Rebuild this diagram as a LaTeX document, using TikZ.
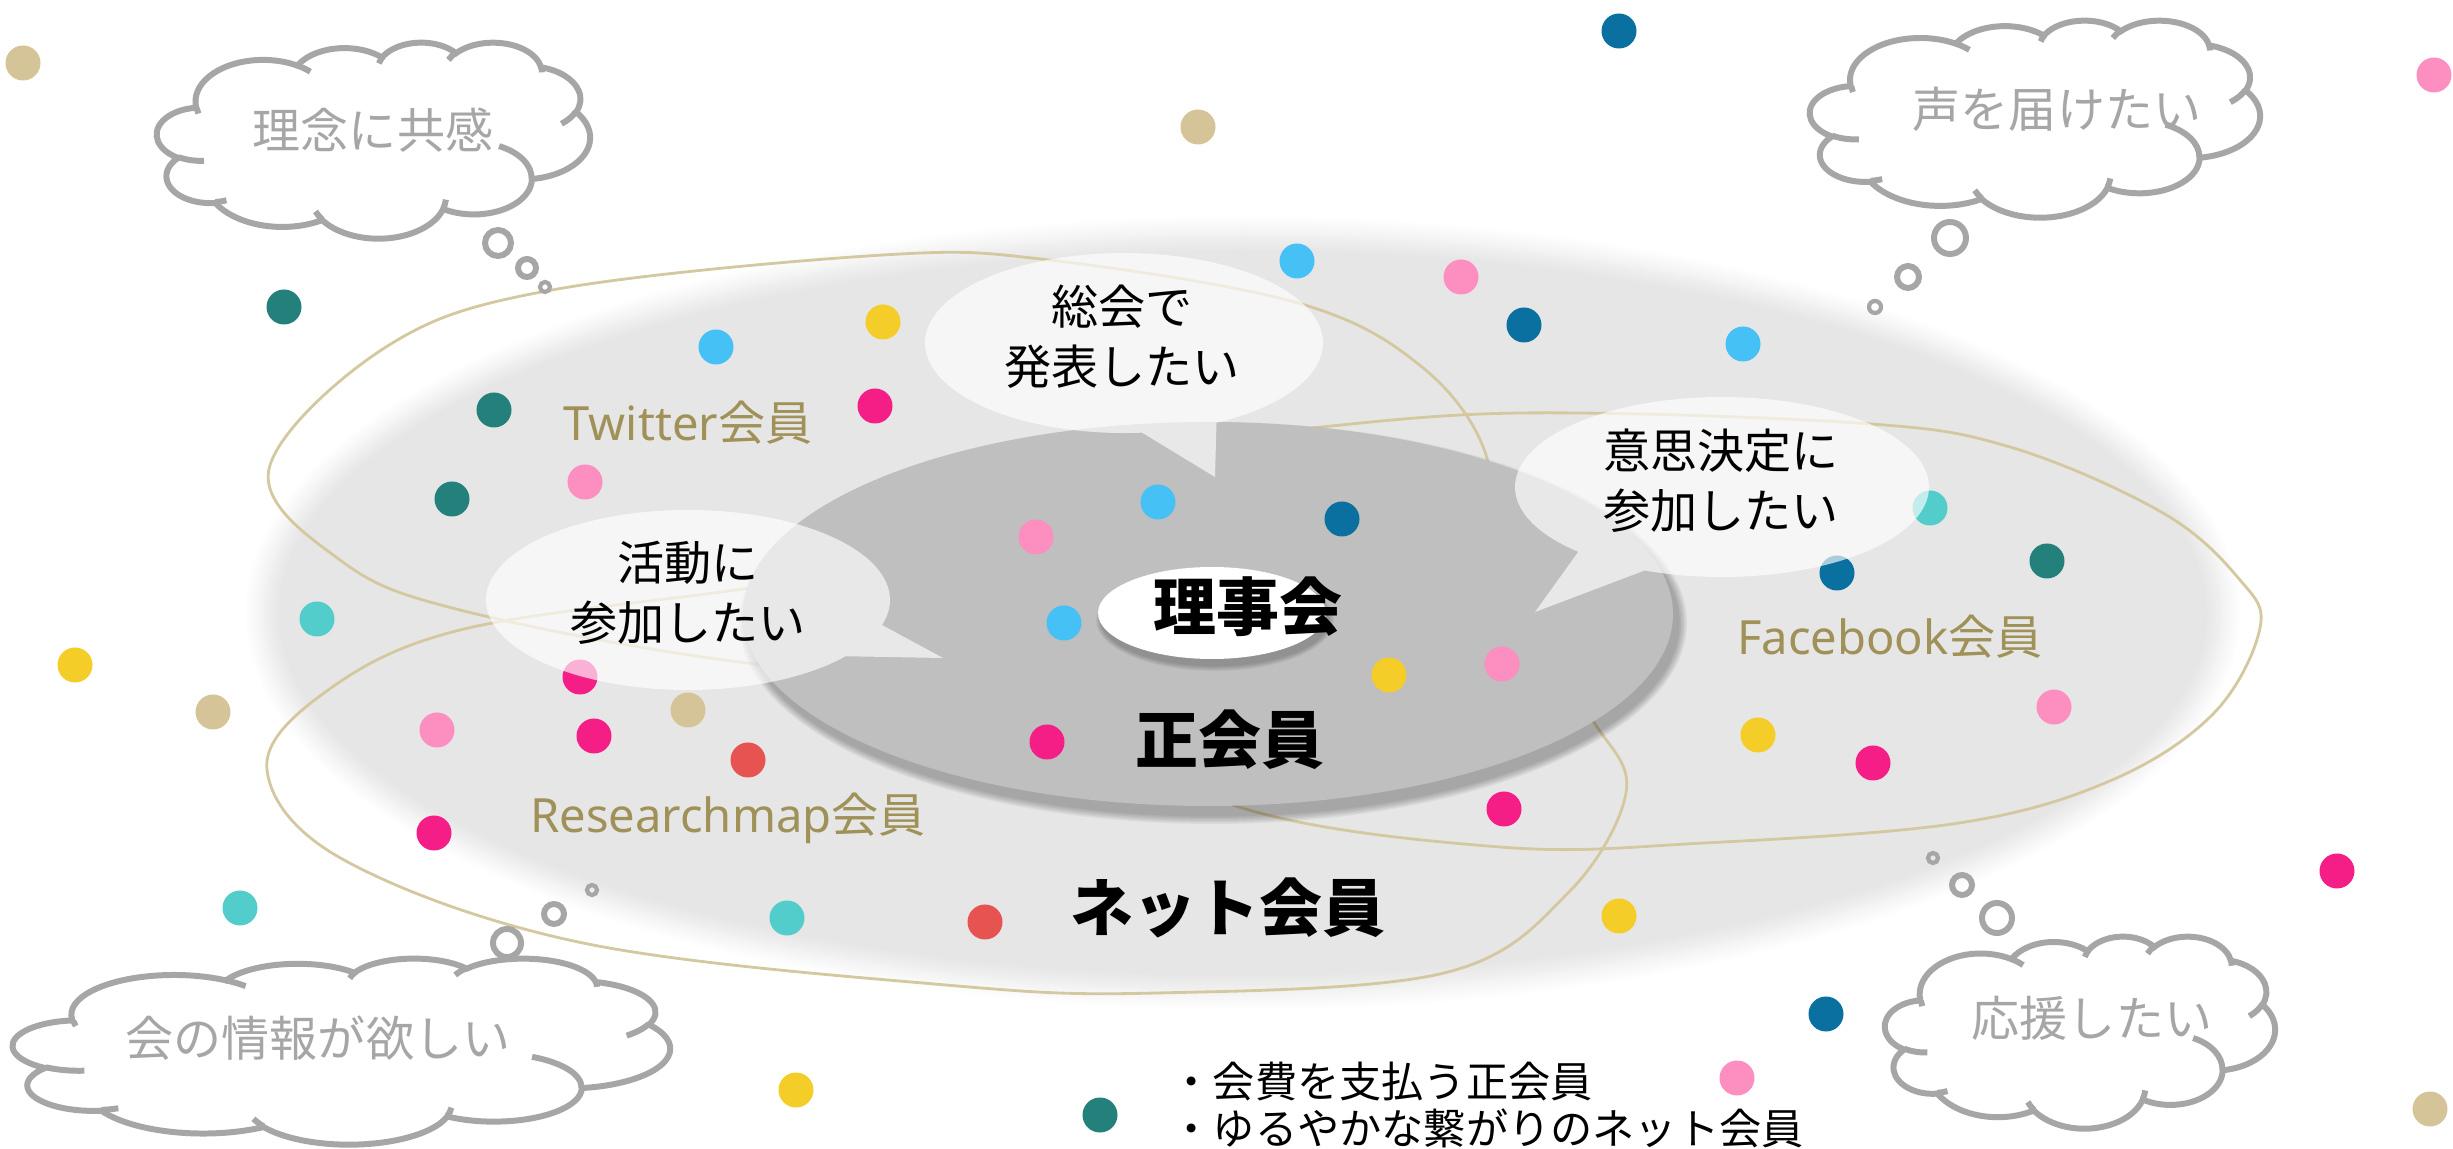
\documentclass[tikz,border=0pt]{standalone}
\usepackage{fontspec}
\setmainfont{Noto Sans CJK JP}
\newfontfamily\latinf{Noto Sans}
\definecolor{lgray}{RGB}{230,230,230}
\definecolor{dgray}{RGB}{191,191,191}
\definecolor{tanl}{RGB}{212,200,160}
\definecolor{labc}{RGB}{160,145,88}
\definecolor{cgray}{RGB}{166,166,166}
\definecolor{dteal}{RGB}{35,128,122}
\definecolor{lblue}{RGB}{70,193,245}
\definecolor{yel}{RGB}{245,205,40}
\definecolor{mag}{RGB}{245,30,135}
\definecolor{pnk}{RGB}{253,142,192}
\definecolor{dblue}{RGB}{10,112,160}
\definecolor{turq}{RGB}{82,205,203}
\definecolor{tandot}{RGB}{212,196,152}
\definecolor{redd}{RGB}{230,83,81}
\pgfmathdeclarefunction{oopar}{3}{\pgfmathparse{atan2((#1)*sin(#3),(#2)*cos(#3))}}
\pgfmathdeclarefunction{oodel}{4}{\pgfmathparse{oopar(#1,#2,(#3)+(#4))-oopar(#1,#2,#3)}\pgfmathparse{\pgfmathresult+360*round(((#4)-(\pgfmathresult))/360)}}
\newcommand\OA[4]{arc[start angle={oopar(#1,#2,#3)}, delta angle={oodel(#1,#2,#3,#4)}, x radius=#1, y radius=#2]}
\newcommand\ppcloud[4]{%
\begin{scope}[shift={(#1,#2)},xscale=#3/432,yscale=#4/432]
\filldraw[cloudl,fill=white] (39.00,143.70)
 \OA{67.53}{91.90}{-190.4875}{123.7805}
 \OA{53.33}{72.67}{-144.1024}{89.9452}
 \OA{43.65}{59.45}{-145.8079}{99.7230}
 \OA{48.57}{65.95}{-130.9861}{117.2417}
 \OA{53.33}{72.73}{-78.7089}{109.0269}
 \OA{67.75}{92.20}{-46.2673}{130.2690}
 \OA{57.85}{78.67}{0.6250}{114.0333}
 \OA{67.52}{92.15}{22.4516}{115.1726}
 \OA{77.20}{105.43}{66.2426}{75.7110}
 \OA{43.60}{59.18}{-274.9421}{146.7356}
 \OA{43.45}{59.45}{-246.8285}{152.5189} -- cycle;
\draw[cloudl] (46.93,261.77) \OA{43.45}{59.45}{86.7420}{26.4295}
 (69.28,348.99) \OA{43.60}{59.18}{73.6105}{11.4475}
 (164.78,390.90) \OA{67.52}{92.15}{137.6242}{14.0811}
 (288.27,347.51) \OA{67.52}{92.15}{6.4533}{15.9984}
 (341.29,229.54) \OA{57.85}{78.67}{-70.2924}{70.9174}
 (417.98,153.54) \OA{53.33}{72.73}{30.3180}{27.7515}
 (383.24,54.26) \OA{48.57}{65.95}{-13.7443}{14.8589}
 (290.78,39.52) \OA{48.57}{65.95}{-149.1815}{18.1954}
 (221.41,47.20) \OA{43.65}{59.45}{-163.4943}{17.6864}
 (140.00,51.92) \OA{67.53}{91.90}{-66.7070}{12.3194}
 (41.27,157.89) \OA{67.53}{91.90}{162.0352}{10.0063};
\end{scope}}
\newcommand\pdot[3]{\fill[#1] (#2,#3) circle[radius=17.5];}
\begin{document}
\begin{tikzpicture}[x=0.01cm,y=-0.01cm,
  cloudl/.style={draw=cgray,line width=1.7pt},
  thought/.style={draw=cgray,line width=1.7pt},
  thoughts/.style={draw=cgray,line width=1.2pt},
  tanline/.style={draw=tanl,line width=0.8pt},
  bub/.style={fill=white,fill opacity=0.65},
  bubtext/.style={font=\fontsize{13.4pt}{17.1pt}\selectfont,align=center,inner sep=0pt},
  bigtext/.style={font=\fontsize{17.9pt}{20pt}\selectfont\bfseries,inner sep=0pt},
  labtext/.style={font=\fontsize{13.4pt}{16pt}\selectfont,text=labc,inner sep=0pt},
  cloudtext/.style={font=\fontsize{13.66pt}{16pt}\selectfont,text=cgray,inner sep=0pt},
  notetext/.style={font=\fontsize{12pt}{13pt}\selectfont,inner sep=0pt,anchor=west}]
\useasboundingbox (0,0) rectangle (2453,1149);
\fill[white] (0,0) rectangle (2453,1149);
% soft light-gray region
\foreach \i in {0,...,12}{
  \pgfmathsetmacro\p{100*\i/12}
  \fill[lgray!\p!white] (1243,613) ellipse [x radius={1000-3*\i}, y radius={399-3*\i}];
}
% tan member curves
\draw[tanline] plot[smooth cycle,tension=0.6] coordinates {(269,469) (386,347) (552,290) (883,255) (1049,260) (1298,303) (1422,367) (1486,455) (1480,550) (1350,640) (1100,690) (747,663) (460,610) (340,560)};
\draw[tanline] plot[smooth cycle,tension=0.6] coordinates {(1290,430) (1520,413) (1857,423) (2010,447) (2163,513) (2240,580) (2260,628) (2214,713) (2112,780) (1959,823) (1704,843) (1500,847) (1236,806) (1050,700) (1060,520) (1150,445)};
\draw[tanline] plot[smooth cycle,tension=0.6] coordinates {(736,590) (1000,555) (1300,570) (1530,650) (1597,727) (1626,793) (1568,893) (1444,973) (1157,993) (946,985) (583,943) (344,860) (267,770) (324,693) (460,630)};
% dark ellipse with shadow
\foreach \i in {0,...,5}{\fill[black,opacity=0.05] (1213,623) ellipse [x radius={474-1.5*\i}, y radius={201-1.5*\i}];}
\fill[dgray] (1208,614) ellipse [x radius=465, y radius=192];
\foreach \i in {0,...,4}{\fill[black,opacity=0.05] (1215,620) ellipse [x radius={119-1.2*\i}, y radius={51-1.2*\i}];}
\fill[white] (1212,613) ellipse [x radius=114, y radius=46];
% dots
\pdot{tandot}{23}{63}\pdot{dblue}{1619}{31}\pdot{tandot}{1198}{127}\pdot{pnk}{2434}{75}
\pdot{lblue}{1297}{261}\pdot{pnk}{1461}{277}\pdot{dblue}{1524}{325}\pdot{dteal}{284}{307}
\pdot{lblue}{716}{347}\pdot{yel}{883}{322}\pdot{lblue}{1743}{344}\pdot{dteal}{494}{410}
\pdot{mag}{875}{406}\pdot{pnk}{585}{482}\pdot{dteal}{452}{499}\pdot{lblue}{1158}{502}
\pdot{dblue}{1342}{519}\pdot{pnk}{1036}{537}\pdot{turq}{1930}{508}\pdot{dteal}{2047}{561}
\pdot{dblue}{1837}{573}\pdot{turq}{317}{619}\pdot{lblue}{1064}{623}\pdot{yel}{1389}{675}
\pdot{pnk}{1502}{664}\pdot{yel}{75}{665}\pdot{mag}{580}{677}\pdot{tandot}{213}{712}
\pdot{tandot}{688}{710}\pdot{pnk}{437}{730}\pdot{mag}{594}{736}\pdot{redd}{748}{760}
\pdot{mag}{1047}{742}\pdot{yel}{1758}{735}\pdot{mag}{1873}{763}\pdot{pnk}{2054}{707}
\pdot{mag}{1504}{809}\pdot{mag}{434}{833}\pdot{turq}{240}{908}\pdot{turq}{787}{918}
\pdot{redd}{985}{922}\pdot{yel}{1619}{916}\pdot{mag}{2337}{871}\pdot{dblue}{1826}{1014}
\pdot{pnk}{1737}{1078}\pdot{yel}{796}{1090}\pdot{dteal}{1100}{1115}\pdot{tandot}{2430}{1109}
% speech bubbles
\fill[bub] (1215,477) -- (1216.5,422.7) arc[start angle=62.3, delta angle=-337.5, x radius=199, y radius=90] -- cycle;
\fill[bub] (1535,612) -- (1578.3,551.8) arc[start angle=133.96, delta angle=338.0, x radius=207, y radius=90] -- cycle;
\fill[bub] (943,658) -- (882.0,625.0) arc[start angle=16.15, delta angle=-337.45, x radius=202, y radius=90] -- cycle;
\node[bubtext] (sokai) at (1122,337) {総会で\\発表したい};
\node[bubtext] (ishi) at (1721,481) {意思決定に\\参加したい};
\node[bubtext] (katsudo) at (688,593) {活動に\\参加したい};
% main labels
\node[bigtext] (riji) at (1248,607) {理事会};
\node[bigtext] (sei) at (1230,740) {正会員};
\node[bigtext] (net) at (1228,908) {ネット会員};
\node[labtext] (tw) at (688,423) {{\latinf Twitter}会員};
\node[labtext] (fb) at (1890,637) {{\latinf Facebook}会員};
\node[labtext] (rm) at (728,818) {{\latinf Researchmap}会員};
% clouds
\ppcloud{157}{42}{433}{196}
\ppcloud{1810}{20}{450}{197}
\ppcloud{13}{958}{657}{186}
\ppcloud{1885}{936}{390}{192}
\node[cloudtext] (c1) at (373,130) {理念に共感};
\node[cloudtext] (c2) at (2057,109) {声を届けたい};
\node[cloudtext] (c3) at (318,1038) {会の情報が欲しい};
\node[cloudtext] (c4) at (2092,1018) {応援したい};
\draw[thought] (498,243) circle[radius=13] (527,268) circle[radius=9];
\draw[thoughts] (545,287) circle[radius=5];
\draw[thought] (1950,238) circle[radius=16] (1908,277) circle[radius=11];
\draw[thoughts] (1875,307) circle[radius=6];
\draw[thought] (507,943) circle[radius=14] (554,914) circle[radius=10];
\draw[thoughts] (592,890) circle[radius=5];
\draw[thought] (1997,918) circle[radius=15] (1962,885) circle[radius=10];
\draw[thoughts] (1933,858) circle[radius=5];
% note
\node[notetext] (note1) at (1170,1082) {・会費を支払う正会員};
\node[notetext] (note2) at (1170,1128) {・ゆるやかな繋がりのネット会員};
\end{tikzpicture}
\end{document}
